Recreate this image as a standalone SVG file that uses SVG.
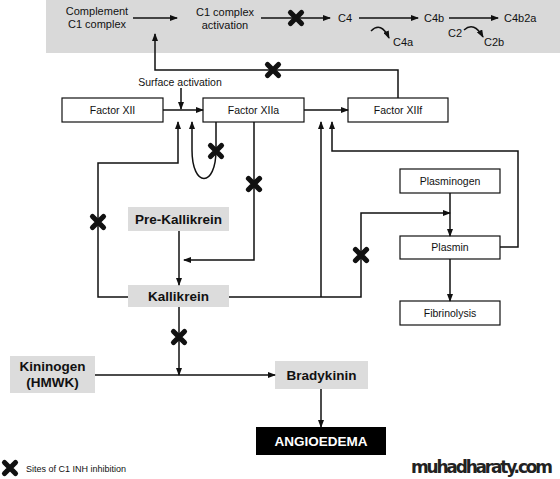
<svg xmlns="http://www.w3.org/2000/svg" xmlns:xlink="http://www.w3.org/1999/xlink" width="560" height="479" viewBox="0 0 560 479">
<style>
text{font-family:"Liberation Sans",Arial,sans-serif;fill:#111;}
.t{font-size:10.5px;text-anchor:middle;}
.top{font-size:11px;}
.b{font-size:13.5px;font-weight:bold;text-anchor:middle;}
.box{fill:#fff;stroke:#111;stroke-width:1.2;}
.gbox{fill:#dcdcdc;stroke:none;}
.ln{fill:none;stroke:#111;stroke-width:1.5;}
.arr{fill:none;stroke:#111;stroke-width:1.5;marker-end:url(#ah);}
</style>
<defs>
<marker id="ah" markerWidth="8" markerHeight="6" refX="7" refY="3" orient="auto" markerUnits="userSpaceOnUse">
<path d="M0,0 L8,3 L0,6 Z" fill="#111"/>
</marker>
<g id="x">
<path d="M-5.5,-5.5 L5.5,5.5 M-5.5,5.5 L5.5,-5.5" stroke="#111" stroke-width="5.2" stroke-linecap="round" fill="none"/>
</g>
</defs>

<rect x="46" y="0" width="514" height="53" fill="#d9d9d9"/>

<g id="complement-c1">
<text class="top" x="97" y="15" text-anchor="middle">Complement</text>
<text class="top" x="97" y="28" text-anchor="middle">C1 complex</text>
</g>
<g id="c1-activation">
<text class="top" x="225" y="16" text-anchor="middle">C1 complex</text>
<text class="top" x="225" y="29" text-anchor="middle">activation</text>
</g>
<g id="c4"><text class="top" x="338" y="22">C4</text></g>
<g id="c4a"><text class="top" x="393" y="46">C4a</text></g>
<g id="c4b"><text class="top" x="424" y="22">C4b</text></g>
<g id="c2"><text class="top" x="448" y="37">C2</text></g>
<g id="c2b"><text class="top" x="484" y="46">C2b</text></g>
<g id="c4b2a"><text class="top" x="504" y="22">C4b2a</text></g>

<g id="surface"><text x="180" y="86" font-size="10.5" text-anchor="middle">Surface activation</text></g>

<g id="factor-xii"><rect class="box" x="62" y="98" width="101" height="24"/><text class="t" x="112.5" y="114">Factor XII</text></g>
<g id="factor-xiia"><rect class="box" x="203" y="98" width="101" height="24"/><text class="t" x="253.5" y="114">Factor XIIa</text></g>
<g id="factor-xiif"><rect class="box" x="348" y="98" width="100" height="24"/><text class="t" x="398" y="114">Factor XIIf</text></g>

<g id="plasminogen"><rect class="box" x="400" y="169" width="100" height="24"/><text class="t" x="450" y="185">Plasminogen</text></g>
<g id="plasmin"><rect class="box" x="400" y="236" width="100" height="23"/><text class="t" x="450" y="251">Plasmin</text></g>
<g id="fibrinolysis"><rect class="box" x="400" y="301" width="100" height="24"/><text class="t" x="450" y="317">Fibrinolysis</text></g>

<g id="pre-kallikrein"><rect class="gbox" x="128" y="207" width="101" height="24"/><text class="b" x="178.5" y="224">Pre-Kallikrein</text></g>
<g id="kallikrein"><rect class="gbox" x="128" y="285" width="101" height="22"/><text class="b" x="178.5" y="301">Kallikrein</text></g>
<g id="kininogen"><rect class="gbox" x="10" y="356" width="85" height="37"/><text class="b" x="52.5" y="371">Kininogen</text><text class="b" x="52.5" y="387">(HMWK)</text></g>
<g id="bradykinin"><rect class="gbox" x="275" y="361" width="93" height="28"/><text class="b" x="321.5" y="380">Bradykinin</text></g>
<g id="angioedema"><rect x="256" y="427" width="130" height="28" fill="#000"/><text class="b" x="321" y="446" style="fill:#fff">ANGIOEDEMA</text></g>

<g id="connectors">
<path class="arr" d="M133,18 L177,18"/>
<path class="arr" d="M261,18 L330,18"/>
<path class="arr" d="M359,18 L418,18"/>
<path class="arr" d="M449,18 L498,18"/>
<path class="arr" d="M371,31 Q381,21 389,38"/>
<path class="arr" d="M464,30 Q474,21 483,37"/>
<path class="arr" d="M398,98 L398,70 L155,70 L155,34"/>
<path class="arr" d="M181,88 L181,109"/>
<path class="arr" d="M163,110 L203,110"/>
<path class="arr" d="M304,110 L348,110"/>
<path class="arr" d="M128,297 L98,297 L98,163 L178,163 L178,122"/>
<path class="arr" d="M216,122 L216,150 C216,188 192,188 192,150 L192,122"/>
<path class="arr" d="M254,122 L254,260 L184,260"/>
<path class="arr" d="M179,231 L179,285"/>
<path class="arr" d="M229,297 L361,297 L361,213 L450,213"/>
<path class="arr" d="M321,297 L321,122"/>
<path class="arr" d="M500,247 L518,247 L518,151 L332,151 L332,122"/>
<path class="arr" d="M450,193 L450,236"/>
<path class="arr" d="M450,259 L450,301"/>
<path class="arr" d="M179,307 L179,375"/>
<path class="arr" d="M95,375 L275,375"/>
<path class="arr" d="M321,389 L321,427"/>
</g>

<g id="inhibition-sites">
<use xlink:href="#x" x="296" y="18"/>
<use xlink:href="#x" x="273" y="70"/>
<use xlink:href="#x" x="216" y="151"/>
<use xlink:href="#x" x="254" y="184"/>
<use xlink:href="#x" x="98" y="222"/>
<use xlink:href="#x" x="361" y="255"/>
<use xlink:href="#x" x="179" y="337"/>
</g>

<g id="legend">
<use xlink:href="#x" x="10" y="468"/>
<text x="26" y="472" font-size="9">Sites of C1 INH inhibition</text>
</g>
<text x="411" y="473" font-size="17" font-weight="bold" style="font-family:'DejaVu Sans',sans-serif;fill:#222" textLength="142">muhadharaty.com</text>
</svg>
